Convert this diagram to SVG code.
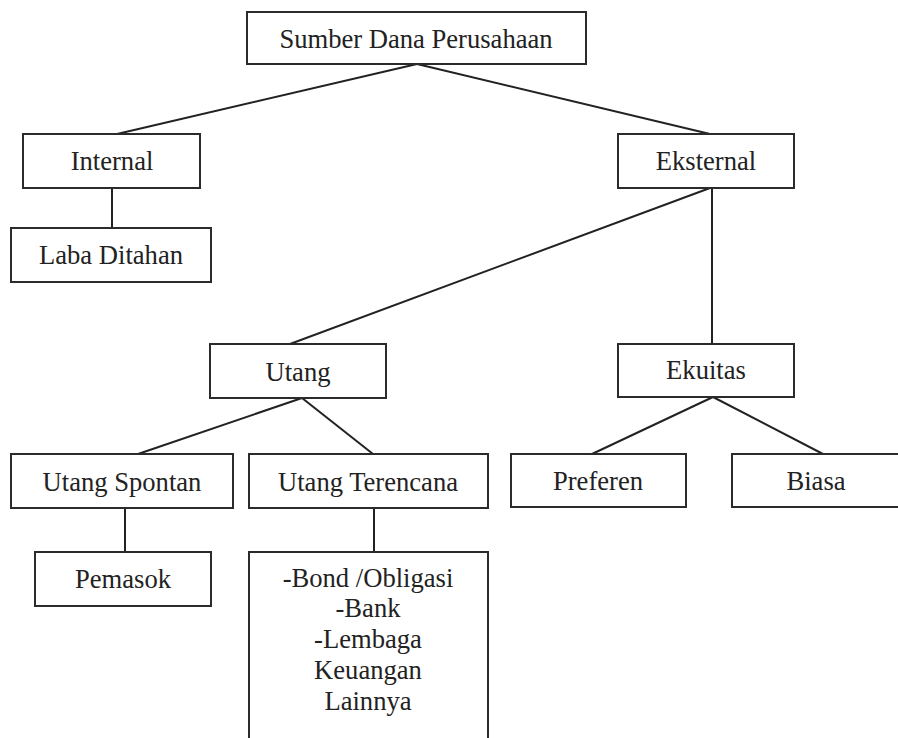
<svg xmlns="http://www.w3.org/2000/svg" width="898" height="738" viewBox="0 0 898 738">
<style>
.b{fill:#fff;stroke:#2b2b2b;stroke-width:2}
.t{font-family:"Liberation Serif","Times New Roman",serif;font-size:26.6px;fill:#222;text-anchor:middle}
.c{stroke:#222;stroke-width:2;fill:none}
</style>
<rect width="898" height="738" fill="#fff"/>
<g id="connectors">
<line class="c" x1="417" y1="64" x2="117" y2="134"/>
<line class="c" x1="417" y1="64" x2="710" y2="134"/>
<line class="c" x1="112" y1="188" x2="112" y2="228"/>
<line class="c" x1="710" y1="188" x2="290" y2="344"/>
<line class="c" x1="712" y1="188" x2="712" y2="344"/>
<line class="c" x1="302" y1="398" x2="138" y2="454"/>
<line class="c" x1="302" y1="398" x2="373" y2="454"/>
<line class="c" x1="125" y1="508" x2="125" y2="552"/>
<line class="c" x1="374" y1="508" x2="374" y2="552"/>
<line class="c" x1="713" y1="397" x2="592" y2="454"/>
<line class="c" x1="713" y1="397" x2="823" y2="454"/>
</g>
<g id="sumber"><rect class="b" x="247" y="12" width="339" height="52"/><text class="t" x="416" y="48">Sumber Dana Perusahaan</text></g>
<g id="internal"><rect class="b" x="23" y="134" width="177" height="54"/><text class="t" x="112" y="170">Internal</text></g>
<g id="laba"><rect class="b" x="11" y="228" width="200" height="54"/><text class="t" x="111" y="264">Laba Ditahan</text></g>
<g id="eksternal"><rect class="b" x="618" y="134" width="176" height="54"/><text class="t" x="706" y="170">Eksternal</text></g>
<g id="utang"><rect class="b" x="210" y="344" width="176" height="54"/><text class="t" x="298" y="381">Utang</text></g>
<g id="ekuitas"><rect class="b" x="618" y="344" width="176" height="53"/><text class="t" x="706" y="379">Ekuitas</text></g>
<g id="spontan"><rect class="b" x="11" y="454" width="222" height="54"/><text class="t" x="122" y="491">Utang Spontan</text></g>
<g id="terencana"><rect class="b" x="249" y="454" width="239" height="54"/><text class="t" x="368" y="491">Utang Terencana</text></g>
<g id="preferen"><rect class="b" x="511" y="454" width="175" height="53"/><text class="t" x="598" y="490">Preferen</text></g>
<g id="biasa"><rect class="b" x="732" y="454" width="170" height="53"/><text class="t" x="816" y="490">Biasa</text></g>
<g id="pemasok"><rect class="b" x="35" y="552" width="176" height="54"/><text class="t" x="123" y="588">Pemasok</text></g>
<g id="lainnya"><rect class="b" x="249" y="552" width="239" height="200"/>
<text class="t" x="368" y="587">-Bond /Obligasi</text>
<text class="t" x="368" y="617">-Bank</text>
<text class="t" x="368" y="648">-Lembaga</text>
<text class="t" x="368" y="679">Keuangan</text>
<text class="t" x="368" y="710">Lainnya</text>
</g>
</svg>
